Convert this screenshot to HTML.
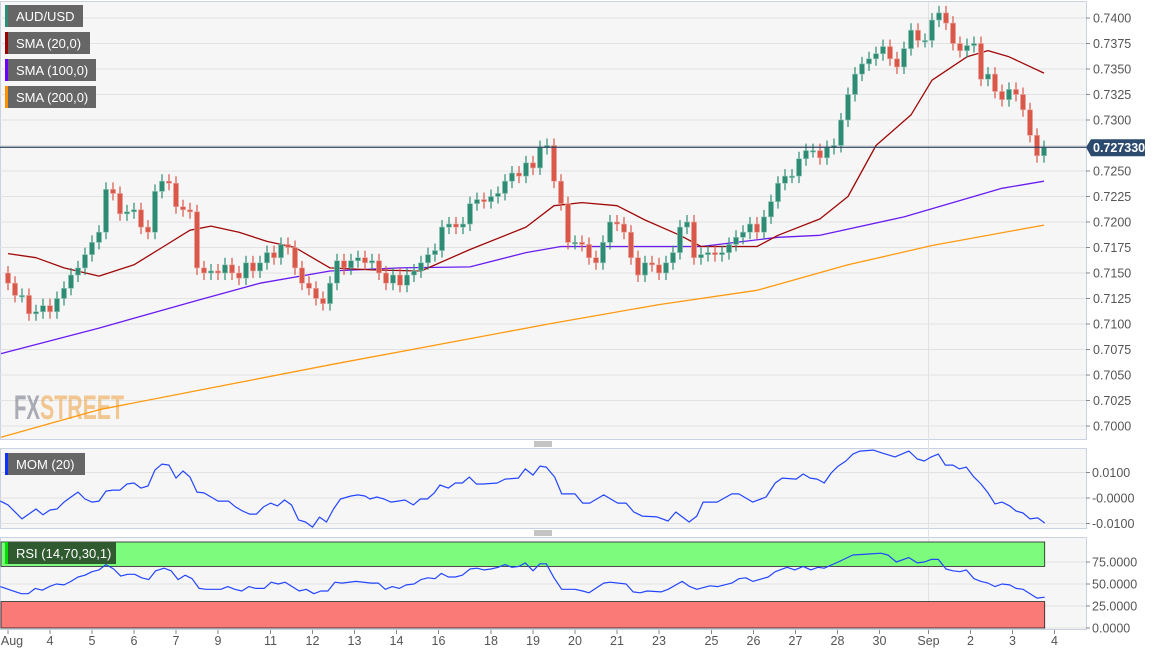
<!DOCTYPE html>
<html><head><meta charset="utf-8"><style>
html,body{margin:0;padding:0;background:#fff;}
svg{display:block;font-family:"Liberation Sans",sans-serif;}
</style></head><body>
<svg id="chart" width="1157" height="655" viewBox="0 0 1157 655" xmlns="http://www.w3.org/2000/svg">
<rect x="0.5" y="1.5" width="1086" height="438" fill="#f6f6f6" stroke="#c9d1e3"/>
<rect x="0.5" y="448.5" width="1086" height="80" fill="#f6f6f6" stroke="#c9d1e3"/>
<rect x="0.5" y="537.5" width="1086" height="92" fill="#f6f6f6" stroke="#c9d1e3"/>
<g id="grid"></g>
<g id="bands"></g>
<g font-weight="bold" font-size="34" opacity="0.55">
<text x="14" y="419" fill="#6b7080" textLength="26" lengthAdjust="spacingAndGlyphs">FX</text>
<text x="40" y="419" fill="#f0a040" textLength="84" lengthAdjust="spacingAndGlyphs">STREET</text>
</g>
<g id="lines"></g>
<g id="candles"></g>
<g id="axes"></g>
<g font-size="13" fill="#fff">
<g><rect x="5" y="5" width="78" height="22" fill="#666"/><rect x="5" y="5" width="3" height="22" fill="#2e8b74"/><text x="16" y="21" fill="#fff">AUD/USD</text></g>
<g><rect x="5" y="32" width="85" height="22" fill="#666"/><rect x="5" y="32" width="3" height="22" fill="#9b0000"/><text x="16" y="48" fill="#fff">SMA (20,0)</text></g>
<g><rect x="5" y="59" width="91" height="22" fill="#666"/><rect x="5" y="59" width="3" height="22" fill="#6a00ff"/><text x="16" y="75" fill="#fff">SMA (100,0)</text></g>
<g><rect x="5" y="86" width="91" height="22" fill="#666"/><rect x="5" y="86" width="3" height="22" fill="#ff9000"/><text x="16" y="102" fill="#fff">SMA (200,0)</text></g>
<g><rect x="5" y="453" width="80" height="22" fill="#666"/><rect x="5" y="453" width="3" height="22" fill="#1030ff"/><text x="16" y="469" fill="#fff">MOM (20)</text></g>
<g><rect x="5" y="542" width="111" height="22" fill="#305a30"/><rect x="5" y="542" width="3" height="22" fill="#00e000"/><text x="16" y="558" fill="#fff">RSI (14,70,30,1)</text></g>
</g>
<g stroke="#888"><line x1="534" y1="442" x2="552" y2="442"/><line x1="534" y1="444" x2="552" y2="444"/><line x1="534" y1="446" x2="552" y2="446"/></g>
<g stroke="#888"><line x1="534" y1="531" x2="552" y2="531"/><line x1="534" y1="533" x2="552" y2="533"/><line x1="534" y1="535" x2="552" y2="535"/></g>
</svg>
<script>
const closes=[0.7140,0.7128,0.7128,0.7110,0.7112,0.7118,0.7112,0.7125,0.7135,0.7148,0.7155,0.7168,0.7180,0.7190,0.7232,0.7228,0.7208,0.7210,0.7212,0.7195,0.7190,0.7230,0.7240,0.7238,0.7215,0.7212,0.7210,0.7155,0.7150,0.7152,0.7150,0.7158,0.7150,0.7145,0.7160,0.7152,0.7160,0.7170,0.7165,0.7178,0.7175,0.7155,0.7140,0.7135,0.7125,0.7120,0.7140,0.7162,0.7155,0.7162,0.7165,0.7160,0.7162,0.7150,0.7140,0.7148,0.7138,0.7148,0.7152,0.7160,0.7168,0.7172,0.7195,0.7198,0.7195,0.7198,0.7218,0.7222,0.7220,0.7225,0.7228,0.7240,0.7248,0.7245,0.7258,0.7253,0.7273,0.7275,0.7240,0.7218,0.7180,0.7180,0.7178,0.7165,0.7160,0.7180,0.7200,0.7198,0.7190,0.7165,0.7148,0.7160,0.7158,0.7150,0.7160,0.7170,0.7195,0.7200,0.7165,0.7168,0.7170,0.7168,0.7170,0.7178,0.7185,0.7190,0.7198,0.7190,0.7205,0.7220,0.7238,0.7245,0.7245,0.7262,0.7270,0.7270,0.7263,0.7273,0.7275,0.7300,0.7325,0.7345,0.7355,0.7360,0.7365,0.7372,0.7360,0.7352,0.7370,0.7388,0.7378,0.7378,0.7398,0.7405,0.7395,0.7375,0.7368,0.7373,0.7375,0.7340,0.7345,0.7328,0.7320,0.7330,0.7325,0.7310,0.7285,0.7265,0.7273];
const firstOpen=0.7150;
const lastPrice=0.727330;
const sma20T=[0,4,8,13,18,22,26,29,33,37,41,46,52,59,66,74,78,82,87,91,96,99,107,110,116,120,124,129,132,137,140,143,148];
const sma20=[0.7169,0.7165,0.7155,0.7147,0.7158,0.7175,0.7192,0.7196,0.7190,0.7181,0.7175,0.7155,0.7153,0.7152,0.7173,0.7195,0.7216,0.7219,0.7216,0.7202,0.7187,0.7176,0.7176,0.7187,0.7203,0.7225,0.7275,0.7305,0.7339,0.7362,0.7368,0.7362,0.7346];
const sma100T=[-1,13,27,36,46,56,66,74,79,99,110,116,128,142,148];
const sma100=[0.7071,0.7096,0.7123,0.7140,0.7152,0.7155,0.7156,0.7170,0.7176,0.7176,0.7185,0.7187,0.7205,0.7233,0.7240];
const sma200T=[-1,13,46,78,93,107,120,132,148];
const sma200=[0.6989,0.7016,0.7060,0.7101,0.7119,0.7133,0.7158,0.7177,0.7197];
const momT=[-1.1,0,2,4,5,6,7,8,9,10,11,12,13,14,15,16,17,18,19,20,21,22,23,24,25,26,27,28,29,30,31.5,32.5,33.5,34.5,35.5,36.5,37.5,38.5,39.5,40.5,41.5,42.5,43.5,44.5,45.5,46.5,47.5,49,50,51,51.7,52.7,53.7,54.7,55.7,56.7,57.9,58.9,59.9,60.9,61.7,62.9,63.9,64.9,65.9,66.9,67.9,69.9,71,72.9,73.9,75,76,76.9,78.1,79.1,81,82.1,83.1,85.1,87.1,88.3,89.4,90.6,92.7,94.3,95.4,97.3,98.4,99.3,101.3,103.4,104.4,106.4,108.3,109.6,110.6,112.6,113.6,114.6,115.6,116.6,117.6,118.6,119.7,120.7,121.7,123.6,124.9,126.7,128.7,129.9,130.9,131.9,132.9,133.9,135,135.9,136.9,138,139,140,141,142,143.1,144,145,146,147.1,148.1];
const mom=[-0.0012,-0.0027,-0.0082,-0.0043,-0.0066,-0.0047,-0.0043,-0.0016,0.0004,0.0023,-0.0004,-0.0016,-0.0012,0.0027,0.0031,0.0031,0.0055,0.0059,0.0039,0.0047,0.0110,0.0133,0.0129,0.0078,0.0106,0.0082,0.0023,0.0020,0.0004,-0.0012,-0.0012,-0.0035,-0.0051,-0.0063,-0.0063,-0.0035,-0.0020,-0.0031,-0.0008,-0.0027,-0.0086,-0.0094,-0.0114,-0.0075,-0.0094,-0.0043,-0.0004,0.0008,0.0012,0.0008,-0.0004,0.0004,-0.0004,-0.0016,-0.0012,-0.0008,-0.0027,-0.0004,-0.0004,0.0020,0.0051,0.0039,0.0059,0.0059,0.0082,0.0055,0.0055,0.0059,0.0074,0.0078,0.0114,0.0090,0.0125,0.0121,0.0082,0.0016,0.0016,-0.0020,-0.0020,0.0012,-0.0020,-0.0020,-0.0055,-0.0071,-0.0074,-0.0090,-0.0055,-0.0094,-0.0071,-0.0016,-0.0016,0.0016,0.0016,-0.0016,0.0004,0.0059,0.0078,0.0074,0.0094,0.0078,0.0074,0.0059,0.0098,0.0125,0.0145,0.0172,0.0184,0.0188,0.0176,0.0161,0.0184,0.0153,0.0145,0.0161,0.0172,0.0129,0.0129,0.0114,0.0121,0.0082,0.0055,0.0020,-0.0023,-0.0016,-0.0031,-0.0051,-0.0059,-0.0082,-0.0078,-0.0098];
const rsiT=[-1.1,0.4,1.9,2.9,3.9,4.9,5.9,6.9,8,9,10,11,12,13,14,15.1,16.1,17.1,18.1,19.1,20.1,21.1,22.3,23.3,24.3,25.3,26.3,27.3,28.3,30.4,31.4,32.4,33.4,34.4,35.4,36.6,37.6,38.6,39.6,40.6,41.6,42.6,43.7,44.7,45.7,46.7,47.7,49.7,51.9,52.9,53.9,54.9,55.9,56.9,58,59,60,61,61.9,62.9,63.9,64.9,66,67,68,69,70,71,72,73,73.9,75,76,76.9,78,79.1,81,82.1,83,85.1,86,88.3,89.3,90.3,91.3,93.3,94.3,96.3,97.4,98.4,100.3,101.4,103.4,104.4,105.4,106.4,108.6,109.6,111.3,112.4,113.6,114.7,115.7,116.6,118.6,120.7,122.7,124.7,125.7,126.9,128.7,129.9,130.9,131.9,132.9,134,135,136,136.9,138,139,140,141,142,143.1,144,145,146,147,148.1];
const rsi=[47,43,39,39,45,43,47,50,49,53,58,60,64,66,72,67,59,61,61,57,55,65,68,65,55,60,56,45,44,44,47,44,42,47,45,45,52,50,52,47,42,44,39,42,42,52,51,53,51,51,44,47,45,49,50,55,57,56,62,58,58,60,67,68,66,67,69,72,69,70,74,65,73,73,57,44,44,42,40,51,52,50,41,40,42,41,44,53,47,44,48,47,51,56,57,53,58,64,69,66,70,66,69,68,75,83,84,85,83,75,80,74,75,78,78,67,65,64,66,56,53,51,47,50,49,45,44,39,34,35];
const priceTicks=[0.7400,0.7375,0.7350,0.7325,0.7300,0.7275,0.7250,0.7225,0.7200,0.7175,0.7150,0.7125,0.7100,0.7075,0.7050,0.7025,0.7000];
const momTicks=[0.01,0,-0.01];
const momTickLabels=["0.0100","-0.0000","-0.0100"];
const rsiTicks=[75,50,25,0];
const rsiTickLabels=["75.0000","50.0000","25.0000","0.0000"];
const dayT=[0,6,12,18,24,30,37.5,43.5,49.5,55.5,61.5,69,75,81,87,93,100.5,106.5,112.5,118.5,124.5,131.5,137.5,143.5,149.5];
const dayLabels=["Aug","4","5","6","7","9","11","12","13","14","16","18","19","20","21","23","25","26","27","28","30","Sep","2","3","4"];
const sepT=131.5;

const NS="http://www.w3.org/2000/svg";
const xOf=t=>8+7*t;
const yP=p=>18+(0.74-p)/0.0025*25.5;
const yM=v=>498-v/0.01*25.5;
const yR=v=>628-v*0.88;
function mk(parent,tag,attrs){const e=document.createElementNS(NS,tag);for(const k in attrs)e.setAttribute(k,attrs[k]);document.getElementById(parent).appendChild(e);return e;}

// grid
priceTicks.forEach(p=>{const l=mk('grid','line',{x1:0,x2:1086,y1:yP(p),y2:yP(p),stroke:'#e2e2e2'});

});
momTicks.forEach(v=>{const l=mk('grid','line',{x1:0,x2:1086,y1:yM(v),y2:yM(v),stroke:'#e2e2e2'});

});
rsiTicks.forEach(v=>{const l=mk('grid','line',{x1:0,x2:1086,y1:yR(v),y2:yR(v),stroke:'#e2e2e2'});

});
const sg=mk('grid','line',{x1:xOf(sepT),x2:xOf(sepT),y1:2,y2:629,stroke:'#e2e2e2'});



// rsi bands
const ob=mk('bands','rect',{x:1,y:yR(100)+2,width:xOf(148.1)-1,height:yR(70)-yR(100)-2,fill:'#7cfb7c',stroke:'#222','stroke-width':0.8});


const os=mk('bands','rect',{x:1,y:yR(30),width:xOf(148.1)-1,height:yR(0)-yR(30),fill:'#fa7a78',stroke:'#222','stroke-width':0.8});



function path(T,V,yf,color,w,name){const d=T.map((t,i)=>(i?'L':'M')+xOf(t).toFixed(1)+' '+yf(V[i]).toFixed(1)).join(' ');
const p=mk('lines','path',{d:d,fill:'none',stroke:color,'stroke-width':w,'stroke-linejoin':'round'});

}
path(sma200T,sma200,yP,'#ff9a10',1.3,'sma200-line');
path(sma100T,sma100,yP,'#6a1cf0',1.3,'sma100-line');
path(sma20T,sma20,yP,'#a00808',1.3,'sma20-line');
path(momT,mom,yM,'#2345ff',1.2,'mom-line');
path(rsiT,rsi,yR,'#2345ff',1.2,'rsi-line');

// candles
closes.forEach((c,i)=>{const o=i?closes[i-1]:firstOpen;const up=c>=o;const col=up?'#2e8b74':'#d9584a';
const x=xOf(i);const top=yP(Math.max(o,c)),bot=yP(Math.min(o,c));
const g=mk('candles','g',{});


const w=document.createElementNS(NS,'line');w.setAttribute('x1',x);w.setAttribute('x2',x);w.setAttribute('y1',top-7);w.setAttribute('y2',bot+7);w.setAttribute('stroke',col);w.setAttribute('stroke-width',1.2);g.appendChild(w);
const r=document.createElementNS(NS,'rect');r.setAttribute('x',x-2.5);r.setAttribute('y',top);r.setAttribute('width',5);r.setAttribute('height',Math.max(1.5,bot-top));r.setAttribute('fill',col);r.setAttribute('stroke',up?'#8cc4b4':'#eaa49c');r.setAttribute('stroke-width',0.6);g.appendChild(r);});

// axes labels
function txt(x,y,s,name,anchor,size,fill){const t=mk('axes','text',{x:x,y:y,'font-size':size||12.5,fill:fill||'#555','text-anchor':anchor||'start'});t.textContent=s;

return t;}
priceTicks.forEach(p=>{if(Math.abs(p-0.7275)<1e-6)return;mk('axes','line',{x1:1086,x2:1090,y1:yP(p),y2:yP(p),stroke:'#888'});txt(1093,yP(p)+4.5,p.toFixed(4),'price-tick-label');});
momTicks.forEach((v,i)=>{mk('axes','line',{x1:1086,x2:1090,y1:yM(v),y2:yM(v),stroke:'#888'});txt(1092,yM(v)+4.5,momTickLabels[i],'mom-tick-label');});
rsiTicks.forEach((v,i)=>{mk('axes','line',{x1:1086,x2:1090,y1:yR(v),y2:yR(v),stroke:'#888'});txt(1092,yR(v)+4.5,rsiTickLabels[i],'rsi-tick-label');});
dayT.forEach((t,i)=>{mk('axes','line',{x1:xOf(t),x2:xOf(t),y1:630,y2:634,stroke:'#888'});txt(xOf(t)+(i===0?4:0),645,dayLabels[i],'x-tick-label','middle',12.5);});
// current price
const pl=mk('axes','line',{x1:0,x2:1086,y1:yP(lastPrice),y2:yP(lastPrice),stroke:'#2c4260','stroke-width':1.2});


const pb=mk('axes','path',{d:`M1086 ${yP(lastPrice)} L1091 ${yP(lastPrice)-8} L1145 ${yP(lastPrice)-8} L1145 ${yP(lastPrice)+9} L1091 ${yP(lastPrice)+9} Z`,fill:'#2c4a6e'});


const pt=txt(1093,yP(lastPrice)+5,lastPrice.toFixed(6),'current-price-label','start',12.5,'#fff');
pt.setAttribute('font-weight','bold');
</script>
</body></html>
